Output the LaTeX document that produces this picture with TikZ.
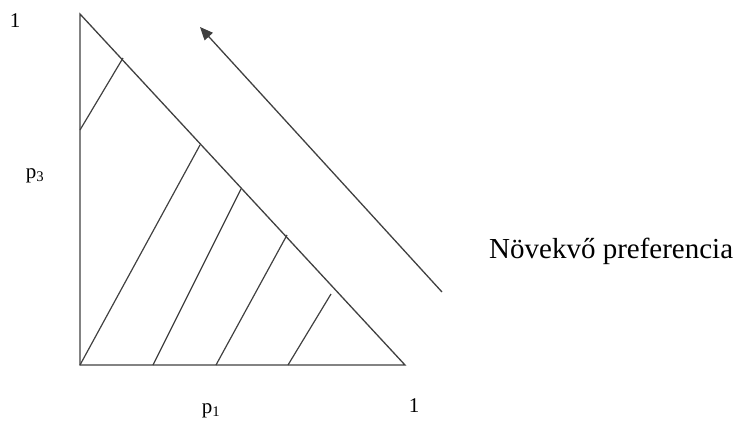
\documentclass[tikz,border=0pt]{standalone}
\usepackage{fontspec}
\setmainfont{Liberation Serif}
\usepackage{tikz}
\usetikzlibrary{arrows.meta}

\begin{document}
\begin{tikzpicture}[
  x=1pt, y=-1pt,
  ln/.style={draw=black!75, line width=1.3pt},
  hatch/.style={draw=black!75, line width=1.2pt},
  arr/.style={-{Triangle[length=13pt,width=11pt]}, draw=black!75, line width=1.3pt},
  lbl/.style={font=\fontsize{21}{24}\selectfont, inner sep=0pt},
  big/.style={font=\fontsize{29}{34}\selectfont, inner sep=0pt}]

\useasboundingbox (0,0) rectangle (745,424);

%% Simplex corners
\coordinate (top)   at (80,14);
\coordinate (orig)  at (80,365);
\coordinate (right) at (405,365);

%% Triangle
\draw[ln] (top) -- (orig) -- (right) -- cycle;

%% Indifference lines
\foreach \xa/\ya/\xb/\yb in {80/130/123/58, 80/365/200/145, 153/365/241/189,
                             216/365/287/235, 288/365/331/294}{
  \draw[hatch] (\xa,\ya) -- (\xb,\yb);
}

%% Direction of preference
\coordinate (tail) at (442,292);
\coordinate (tip)  at (200,27);
\draw[arr] (tail) -- (tip);

%% Labels
\node[lbl] (onetop)  at (15,21)  {1};
\node[lbl] (pthree)  at (35,176) {p\textsubscript{3}};
\node[lbl] (pone)    at (211,411) {p\textsubscript{1}};
\node[lbl] (oneright) at (414,406) {1};
\node[big, anchor=base west] (pref) at (489,258) {Növekvő preferencia};
\end{tikzpicture}
\end{document}
